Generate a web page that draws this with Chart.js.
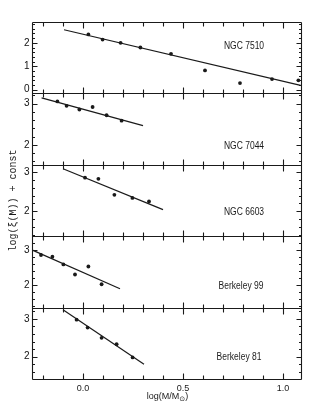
<!DOCTYPE html>
<html><head><meta charset="utf-8">
<script src="https://cdn.jsdelivr.net/npm/chart.js@4"></script>
<style>html,body{margin:0;padding:0;background:#fff}#wrap{width:312px;height:415px}</style>
</head><body><div id="wrap"><canvas id="c" width="312" height="415"></canvas></div>
<script>
// ---- data ----
const panelNames = ['NGC 7510', 'NGC 7044', 'NGC 6603', 'Berkeley 99', 'Berkeley 81'];

const logM_7510 = [0.027, 0.098, 0.188, 0.287, 0.44, 0.61, 0.785, 0.945, 1.077];
const xi_7510   = [2.36, 2.14, 2.00, 1.80, 1.53, 0.82, 0.28, 0.45, 0.40];
const fitX_7510 = [-0.095, 1.088];
const fitY_7510 = [2.56, 0.18];

const logM_7044 = [-0.128, -0.082, -0.018, 0.048, 0.118, 0.193];
const xi_7044   = [3.055, 2.95, 2.86, 2.92, 2.72, 2.59];
const fitX_7044 = [-0.207, 0.30];
const fitY_7044 = [3.14, 2.47];

const logM_6603 = [0.01, 0.077, 0.157, 0.247, 0.33];
const xi_6603   = [2.86, 2.83, 2.42, 2.34, 2.25];
const fitX_6603 = [-0.10, 0.40];
const fitY_6603 = [3.09, 2.04];

const logM_B99 = [-0.21, -0.153, -0.098, -0.04, 0.027, 0.093];
const xi_B99   = [2.86, 2.81, 2.59, 2.30, 2.53, 2.02];
const fitX_B99 = [-0.253, 0.185];
const fitY_B99 = [3.00, 1.89];

const logM_B81 = [-0.032, 0.023, 0.093, 0.168, 0.248];
const xi_B81   = [2.98, 2.77, 2.50, 2.33, 1.98];
const fitX_B81 = [-0.10, 0.305];
const fitY_B81 = [3.24, 1.80];

const xTickLabels = [0.0, 0.5, 1.0];
const yTickLabels = [[0, 1, 2], [2, 3], [2, 3], [2, 3], [2, 3]];
const yMin = [-0.16, 1.52, 1.36, 1.35, 1.41];
const yMax = [2.89, 3.25, 3.19, 3.40, 3.30];
const xMin = -0.255, xMax = 1.09;
const xTitleParts = ['log(M/M', '⊙', ')'];   // middle part is a subscript
const yTitle = 'log(ξ(M)) + const';

// ---- build ----
const series = [
  [logM_7510, xi_7510, fitX_7510, fitY_7510],
  [logM_7044, xi_7044, fitX_7044, fitY_7044],
  [logM_6603, xi_6603, fitX_6603, fitY_6603],
  [logM_B99, xi_B99, fitX_B99, fitY_B99],
  [logM_B81, xi_B81, fitX_B81, fitY_B81]
];
const ink = '#1a1a1a';
const sansFam = "'Liberation Sans Narrow','Liberation Sans',Arial,sans-serif";
const tickFont = {family: sansFam, size: 9};
const datasets = [];
const scales = {};
series.forEach((s, i) => {
  const id = 'y' + i;
  datasets.push({
    type: 'scatter', yAxisID: id, xAxisID: 'x',
    data: s[0].map((x, j) => ({x: x, y: s[1][j]})),
    pointRadius: 1.9, pointBackgroundColor: ink, pointBorderWidth: 0, showLine: false
  });
  datasets.push({
    type: 'scatter', yAxisID: id, xAxisID: 'x', showLine: true,
    data: s[2].map((x, j) => ({x: x, y: s[3][j]})),
    pointRadius: 0, borderColor: ink, borderWidth: 1.2, fill: false
  });
  scales[id] = {
    type: 'linear', position: 'left', stack: 'panels', stackWeight: 1, weight: 10 - i,
    min: yMin[i], max: yMax[i],
    grid: {display: false, drawTicks: false}, border: {display: false},
    afterBuildTicks: sc => { sc.ticks = yTickLabels[i].map(v => ({value: v})); },
    ticks: {display: false},
    afterFit: sc => { sc.width = 32; },
    title: i === 2 ? {display: true, text: yTitle, color: ink,
      font: {family: "'Liberation Mono','DejaVu Sans Mono',monospace", size: 10},
      padding: {top: 7, bottom: 0}} : {display: false}
  };
});
scales.x = {
  type: 'linear', position: 'bottom', min: xMin, max: xMax,
  grid: {display: false, drawTicks: false}, border: {display: false},
  afterBuildTicks: sc => { sc.ticks = xTickLabels.map(v => ({value: v})); },
  ticks: {font: tickFont, color: ink, padding: 4, maxRotation: 0, autoSkip: false, callback: v => v.toFixed(1)},
  title: {display: false},
  afterFit: sc => { sc.height = 36; }
};

const labelAnchor = [[0.805, 1.84], [0.805, 1.96], [0.805, 1.97], [0.79, 1.95], [0.78, 1.99]];

const framePlugin = {
  id: 'frames',
  afterDatasetsDraw(chart) {
    const ctx = chart.ctx, xs = chart.scales.x;
    const L = Math.round(chart.chartArea.left) + 0.5, R = Math.round(chart.chartArea.right) + 0.5;
    ctx.save();
    ctx.strokeStyle = ink; ctx.lineWidth = 1.1;
    ctx.beginPath();
    ctx.moveTo(L, Math.round(chart.chartArea.top) + 0.5); ctx.lineTo(L, Math.round(chart.chartArea.bottom) + 0.5);
    ctx.moveTo(R, Math.round(chart.chartArea.top) + 0.5); ctx.lineTo(R, Math.round(chart.chartArea.bottom) + 0.5);
    for (let i = 0; i < 5; i++) {
      const ys = chart.scales['y' + i];
      const T = Math.round(ys.top) + 0.5, B = Math.round(ys.bottom) + 0.5;
      ctx.moveTo(L, T); ctx.lineTo(R, T);
      ctx.moveTo(L, B); ctx.lineTo(R, B);
      for (let k = -2; k <= 10; k++) {
        const px = Math.round(xs.getPixelForValue(k / 10)) + 0.5;
        const len = (k % 5 === 0) ? 6 : 4;
        ctx.moveTo(px, T); ctx.lineTo(px, T + len);
        ctx.moveTo(px, B); ctx.lineTo(px, B - len);
      }
      for (let k = Math.ceil(yMin[i] * 5); k <= Math.floor(yMax[i] * 5); k++) {
        const py = Math.round(ys.getPixelForValue(k / 5)) + 0.5;
        const len = (k % 5 === 0) ? 5 : 2.5;
        ctx.moveTo(L, py); ctx.lineTo(L + len, py);
        ctx.moveTo(R, py); ctx.lineTo(R - len, py);
      }
    }
    ctx.stroke();
    ctx.restore();
  },
  afterDraw(chart) {
    const ctx = chart.ctx, xs = chart.scales.x;
    const L = Math.round(chart.chartArea.left) + 0.5;
    for (let i = 0; i < 5; i++) {
      const ys = chart.scales['y' + i];
      yTickLabels[i].forEach(v => {
        ctx.save();
        ctx.fillStyle = '#111';
        ctx.font = "10px " + sansFam;
        ctx.textAlign = 'right'; ctx.textBaseline = 'middle';
        ctx.fillText(String(v), L - 3, ys.getPixelForValue(v));
        ctx.restore();
      });
    }
    ctx.save();
    ctx.fillStyle = ink;
    ctx.font = "10px " + sansFam;
    ctx.textAlign = 'center'; ctx.textBaseline = 'middle';
    for (let i = 0; i < 5; i++) {
      const ys = chart.scales['y' + i];
      const px = xs.getPixelForValue(labelAnchor[i][0]);
      const py = ys.getPixelForValue(labelAnchor[i][1]);
      ctx.save();
      ctx.translate(px, py);
      ctx.scale(0.85, 1);
      ctx.fillText(panelNames[i], 0, 0);
      ctx.restore();
    }
    const mainF = "9px " + sansFam, subF = "7px 'DejaVu Sans'," + sansFam;
    ctx.textAlign = 'left'; ctx.textBaseline = 'middle';
    ctx.font = mainF; const w0 = ctx.measureText(xTitleParts[0]).width, w2 = ctx.measureText(xTitleParts[2]).width;
    ctx.font = subF; const w1 = ctx.measureText(xTitleParts[1]).width;
    const cx = (chart.chartArea.left + chart.chartArea.right) / 2 + 1;
    const ty = xs.bottom - 18;
    const x0 = cx - (w0 + w1 + w2) / 2;
    ctx.font = mainF; ctx.fillText(xTitleParts[0], x0, ty);
    ctx.font = subF; ctx.fillText(xTitleParts[1], x0 + w0, ty + 2.5);
    ctx.font = mainF; ctx.fillText(xTitleParts[2], x0 + w0 + w1, ty);
    ctx.restore();
  }
};

new Chart(document.getElementById('c'), {
  type: 'scatter',
  data: {datasets: datasets},
  options: {
    responsive: false, animation: false, devicePixelRatio: 1,
    layout: {padding: {left: 0, right: 11, top: 22, bottom: 0}},
    plugins: {legend: {display: false}, tooltip: {enabled: false}},
    scales: scales
  },
  plugins: [framePlugin]
});
</script></body></html>
